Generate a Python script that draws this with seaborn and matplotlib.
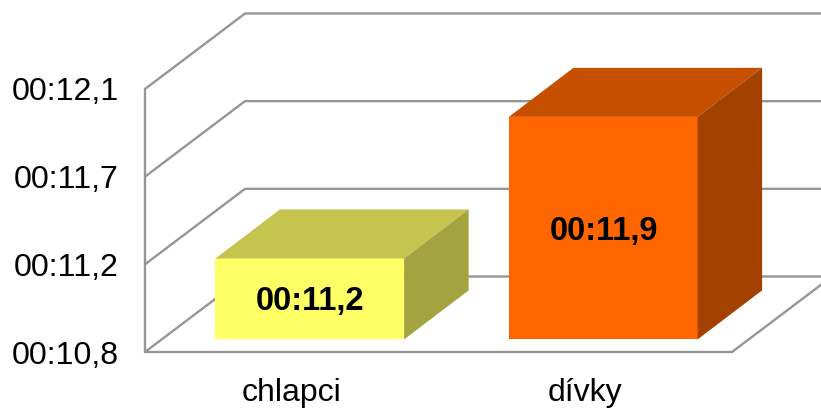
import matplotlib
matplotlib.use("Agg")
import matplotlib.pyplot as plt
import seaborn as sns
from matplotlib.patches import Polygon

# Sprint times in seconds, shown as mm:ss,t
categories = ["chlapci", "dívky"]
times = [11.2, 11.9]
tick_values = [10.8, 11.2333, 11.6667, 12.1]
tick_labels = ["00:10,8", "00:11,2", "00:11,7", "00:12,1"]

front_colors = ["#FFFF66", "#FF6600"]
top_colors = ["#C4C44F", "#C65000"]
side_colors = ["#A3A340", "#A34100"]
grid_color = "#969696"

W, H = 821, 408
LEFT, RIGHT, FLOOR, CEIL = 145.0, 732.0, 352.0, 89.0
BAR_SHIFT = (18.0, 12.6)     # bars stand a little behind the front edge
BAR_DEPTH = (64.5, 49.0)     # receding offset of a bar's top and side
WALL_DEPTH = (100.0, 75.5)   # receding offset of the back wall

sns.set_theme(style="white")
plt.rcParams["font.family"] = ["Liberation Sans", "DejaVu Sans"]


def axes_rect(left, right, bottom, top):
    return [left / W, 1 - bottom / H, (right - left) / W, (bottom - top) / H]


fig = plt.figure(figsize=(W / 100, H / 100), dpi=100)
ax = fig.add_axes(axes_rect(LEFT, RIGHT, FLOOR, CEIL))
ax_bars = fig.add_axes(axes_rect(LEFT + BAR_SHIFT[0], RIGHT + BAR_SHIFT[0],
                                 FLOOR - BAR_SHIFT[1], CEIL - BAR_SHIFT[1]))
ax_bars.patch.set_alpha(0)

ymin, ymax = tick_values[0], tick_values[-1]
px_x = 2.0 / (RIGHT - LEFT)
px_y = (ymax - ymin) / (FLOOR - CEIL)

# Frame: left axis, wall grid lines and the floor outline
ax.set_xlim(-0.5, 1.5)
ax.set_ylim(ymin, ymax)
sns.despine(ax=ax, left=True, bottom=True)
ax.set_xticks(range(len(categories)), categories)
ax.set_yticks(tick_values, tick_labels)
ax.tick_params(axis="y", length=0, pad=18.8, labelsize=23.1, labelcolor="black")
ax.tick_params(axis="x", length=0, pad=19.0, labelsize=23.0, labelcolor="black")

line_style = dict(color=grid_color, lw=1.7, clip_on=False, solid_joinstyle="miter")
wall_x = WALL_DEPTH[0] * px_x
wall_y = WALL_DEPTH[1] * px_y
for t in tick_values:
    ax.plot([-0.5, -0.5 + wall_x, 1.5 + wall_x],
            [t, t + wall_y, t + wall_y], **line_style)
ax.plot([-0.5, -0.5], [ymin, ymax], **line_style)
ax.plot([-0.5, 1.5, 1.5 + wall_x], [ymin, ymin, ymin + wall_y], **line_style)

# Front faces of the bars
sns.barplot(x=categories, y=times, hue=categories, palette=front_colors,
            saturation=1, width=0.643, legend=False, ax=ax_bars, linewidth=0)
ax_bars.set_xlim(-0.5, 1.5)
ax_bars.set_ylim(ymin, ymax)
ax_bars.axis("off")

# Top and side faces, extruded from each front face
dx = BAR_DEPTH[0] * px_x
dy = BAR_DEPTH[1] * px_y
for bar, value, top_c, side_c in zip(ax_bars.patches, times, top_colors, side_colors):
    x0, x1 = bar.get_x(), bar.get_x() + bar.get_width()
    ax_bars.add_patch(Polygon(
        [(x0, value), (x1, value), (x1 + dx, value + dy), (x0 + dx, value + dy)],
        closed=True, facecolor=top_c, edgecolor="none", clip_on=False))
    ax_bars.add_patch(Polygon(
        [(x1, ymin), (x1 + dx, ymin + dy), (x1 + dx, value + dy), (x1, value)],
        closed=True, facecolor=side_c, edgecolor="none", clip_on=False))
    ax_bars.annotate("00:" + f"{value:04.1f}".replace(".", ","),
                     xy=((x0 + x1) / 2, (ymin + value) / 2),
                     xytext=(0.5, -2.2), textcoords="offset points",
                     ha="center", va="center", fontsize=23.5, fontweight="bold",
                     color="black")

fig.savefig("out.png", dpi=100)
